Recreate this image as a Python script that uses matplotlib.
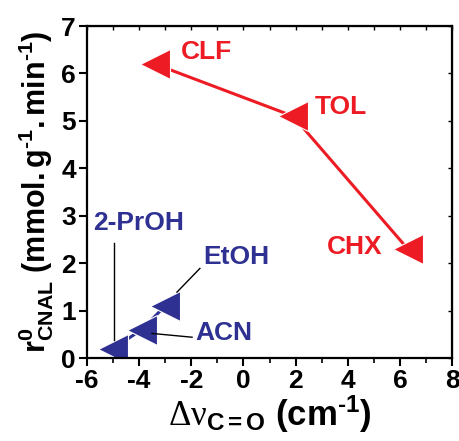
import matplotlib
matplotlib.use("Agg")
import matplotlib.pyplot as plt
from matplotlib.ticker import MultipleLocator, NullFormatter

plt.rcParams['font.family'] = ['Liberation Sans', 'DejaVu Sans']
plt.rcParams['font.weight'] = 'bold'
plt.rcParams['axes.unicode_minus'] = False
plt.rcParams['mathtext.fontset'] = 'custom'
plt.rcParams['mathtext.rm'] = 'Liberation Serif:normal'
plt.rcParams['mathtext.it'] = 'Liberation Serif:normal'
plt.rcParams['mathtext.bf'] = 'Liberation Sans:bold'

RED = '#ed1c24'
BLUE = '#2e3192'

# apolar solvents (red)
apolar_names = ['CLF', 'TOL', 'CHX']
apolar_dnu = [-3.4, 1.9, 6.3]
apolar_rate = [6.2, 5.1, 2.3]

# polar solvents (blue)
polar_names = ['2-PrOH', 'ACN', 'EtOH']
polar_dnu = [-5.0, -3.9, -3.0]
polar_rate = [0.2, 0.6, 1.1]

fig = plt.figure(figsize=(4.6, 4.41), dpi=100)
ax = fig.add_axes([0.189, 0.188, 0.794, 0.753])

ax.plot(apolar_dnu, apolar_rate, '-', color=RED, lw=2.2, marker='<', ms=21,
        mfc=RED, mec='white', mew=0.8)
ax.plot(polar_dnu, polar_rate, '-', color=BLUE, lw=2.2, marker='<', ms=21,
        mfc=BLUE, mec='white', mew=0.8)

# labels
ax.text(-2.4, 6.45, 'CLF', color=RED, fontsize=19, fontweight='bold', va='center')
ax.text(2.75, 5.29, 'TOL', color=RED, fontsize=19, fontweight='bold', va='center')
ax.text(3.2, 2.34, 'CHX', color=RED, fontsize=19, fontweight='bold', va='center')
ax.text(-5.77, 2.84, '2-PrOH', color=BLUE, fontsize=19, fontweight='bold', va='center')
ax.text(-1.55, 2.13, 'EtOH', color=BLUE, fontsize=19, fontweight='bold', va='center')
ax.text(-1.86, 0.52, 'ACN', color=BLUE, fontsize=19, fontweight='bold', va='center')

# pointer lines
ax.plot([-4.95, -4.95], [2.42, 0.38], color='black', lw=1)
ax.plot([-1.67, -2.55], [1.89, 1.39], color='black', lw=1)
ax.plot([-3.51, -1.97], [0.52, 0.44], color='black', lw=1)

ax.set_xlim(-6, 8)
ax.set_ylim(0, 7)
ax.xaxis.set_major_locator(MultipleLocator(2))
ax.xaxis.set_minor_locator(MultipleLocator(1))
ax.yaxis.set_major_locator(MultipleLocator(1))

for s in ax.spines.values():
    s.set_linewidth(1.6)
ax.tick_params(which='major', direction='out', length=6, width=1.5,
               labelsize=19, pad=2)
ax.tick_params(which='minor', direction='out', length=3.5, width=1.2)
for lab in ax.get_xticklabels() + ax.get_yticklabels():
    lab.set_fontweight('bold')

top = ax.secondary_xaxis('top')
top.xaxis.set_major_locator(MultipleLocator(1))
top.xaxis.set_major_formatter(NullFormatter())
top.tick_params(direction='in', length=3, width=1)
right = ax.secondary_yaxis('right')
right.yaxis.set_major_locator(MultipleLocator(1))
right.yaxis.set_major_formatter(NullFormatter())
right.tick_params(direction='in', length=3, width=1)

ax.set_xlabel(r'$\mathrm{\Delta\nu}_{\mathbf{C=O}}$ $\mathbf{(cm^{‐1})}$',
              fontsize=25, fontweight='normal', labelpad=0)
ax.set_ylabel(r'$\mathbf{r^{0}_{CNAL}}$ $\mathbf{(mmol.g^{‐1}.min^{‐1})}$',
              fontsize=22, labelpad=4)

fig.savefig('out.png', dpi=100)
